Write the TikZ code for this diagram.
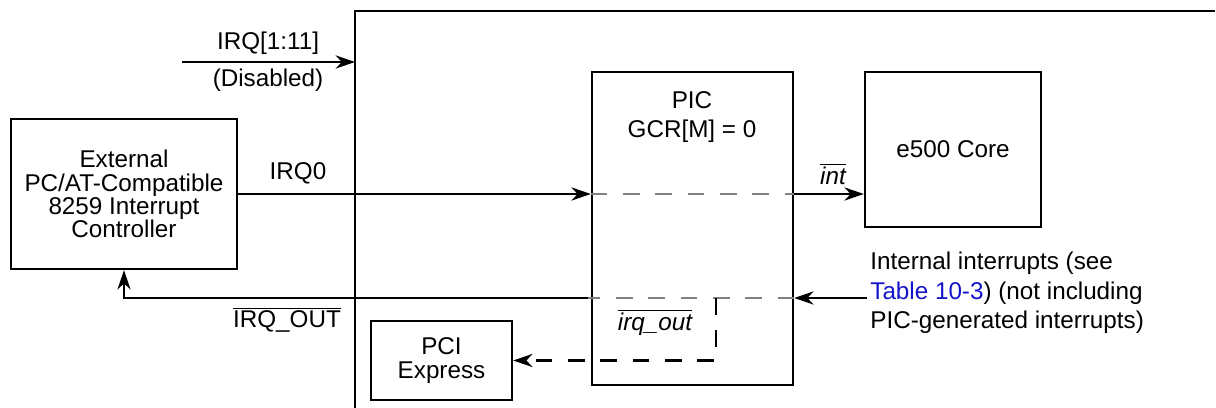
\documentclass[tikz,border=0pt]{standalone}
\usepackage{fontspec}
\setmainfont{Liberation Sans}
\usepackage{tikz}
\usetikzlibrary{positioning,arrows.meta,calc}

\definecolor{xrefblue}{RGB}{20,20,200}

\begin{document}
\begin{tikzpicture}[
    x=0.02cm, y=-0.02cm,
    every node/.style={font={\fontsize{13.8}{13.2}\selectfont}},
    box_node/.style={rectangle, draw, line width=1.4pt, align=center},
    sig_arrow/.style={draw, line width=1.3pt, -{Stealth[length=11pt, width=7.5pt, inset=3.5pt]}},
    gray_dash/.style={draw, gray, line width=1.3pt, dash pattern=on 9.4pt off 9pt},
    blk_dash/.style={draw, line width=1.3pt, dash pattern=on 9.4pt off 9pt},
    frame_line/.style={draw, line width=1.4pt}
]
\useasboundingbox (0,0) rectangle (1216,408);

% Blocks
\node[box_node, minimum width=4.52cm, minimum height=3cm] (ext) at (124,194)
    {External\\PC/AT-Compatible\\8259 Interrupt\\Controller};
\node[box_node, minimum width=4.02cm, minimum height=6.26cm] (pic) at (692.5,228.5) {};
\node[align=center, font={\fontsize{13.8}{17}\selectfont}] (pic_txt) at (692,117) {PIC\\GCR[M] = 0};
\node[box_node, minimum width=3.52cm, minimum height=3.1cm] (core) at (953,149.5) {e500 Core};
\node[box_node, minimum width=2.82cm, minimum height=1.58cm] (pci) at (441.5,360.5) {PCI\\Express};

% Device frame (cut off at right and bottom)
\coordinate (frame_bl) at (355,410);
\coordinate (frame_tl) at (355,11);
\coordinate (frame_tr) at (1215,11);
\draw[frame_line] (frame_bl) -- (frame_tl) -- (frame_tr);

% IRQ[1:11]
\coordinate (irq_src) at (182,62);
\draw[sig_arrow] (irq_src) -- (irq_src -| frame_tl);
\node (lbl_irq) at (268,43) {IRQ[1:11]};
\node (lbl_dis) at (268,80) {(Disabled)};

% IRQ0 through PIC to core
\draw[sig_arrow] (ext.east) -- (ext.east -| pic.west);
\draw[gray_dash] (ext.east -| pic.west) -- (ext.east -| pic.east);
\draw[sig_arrow] (ext.east -| pic.east) -- (ext.east -| core.west);
\node (lbl_irq0) at (298,173) {IRQ0};
\node (lbl_int) at (833,174) {$\overline{\mbox{\itshape int}}$};

% Internal interrupts back out as IRQ_OUT
\coordinate (int_src) at (867,298);
\coordinate (out_split) at (588,298);
\coordinate (pci_tap) at (716,298);
\draw[sig_arrow] (int_src) -- (int_src -| pic.east);
\draw[gray_dash] (int_src -| pic.east) -- (out_split);
\draw[sig_arrow] (out_split) -| (ext.south);
\draw[blk_dash, -{Stealth[length=11pt, width=7.5pt, inset=3.5pt]}] (pci_tap) |- (pci.east);
\node (lbl_out) at (287,320) {$\overline{\mbox{IRQ\_OUT}}$};
\node (lbl_irqout) at (655,322) {$\overline{\mbox{\itshape irq\_out}}$};
\node[anchor=west, align=left, inner sep=0pt, font={\fontsize{13.8}{16.7}\selectfont}] (int_note) at (870,293)
    {Internal interrupts (see\\\textcolor{xrefblue}{Table 10-3}) (not including\\PIC-generated interrupts)};

\end{tikzpicture}
\end{document}
